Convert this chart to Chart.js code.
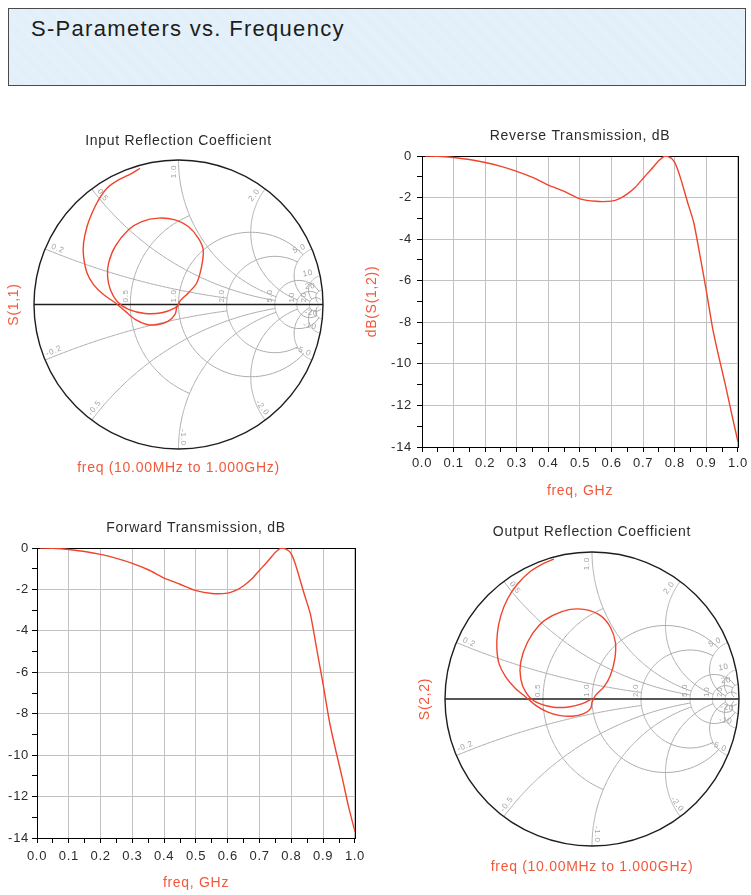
<!DOCTYPE html>
<html>
<head>
<meta charset="utf-8">
<title>S-Parameters vs. Frequency</title>
<script src="https://cdn.jsdelivr.net/npm/chart.js@4.4.1/dist/chart.umd.min.js"></script>
<style>
	body { margin: 0; width: 751px; height: 895px; position: relative; overflow: hidden; background: #fff;
		font-family: "Liberation Sans", Arial, sans-serif; }
	#header { position: absolute; left: 8px; top: 8px; width: 736px; height: 76px; border: 1px solid #4a4a4a;
		background-color: #dfeef8;
		background-image: repeating-linear-gradient(45deg, rgba(255,255,255,0.22) 0 1px, transparent 1px 2px); }
	#header span { position: absolute; left: 22px; top: 8px; font-size: 22px; line-height: 24px;
		letter-spacing: 1.3px; color: #1c1c1c; }
	canvas { position: absolute; }
</style>
</head>
<body>
<div id="header"><span>S-Parameters vs. Frequency</span></div>
<canvas id="chartS11" width="340" height="360" style="left:0px;top:120px"></canvas>
<canvas id="chartS12" width="391" height="380" style="left:360px;top:120px"></canvas>
<canvas id="chartS21" width="370" height="385" style="left:0px;top:510px"></canvas>
<canvas id="chartS22" width="351" height="385" style="left:400px;top:510px"></canvas>
<script>
/* frequency points (GHz) */
var freqGHz = [0.01, 0.05, 0.10, 0.15, 0.20, 0.25, 0.30, 0.35, 0.40, 0.45, 0.50,
	0.55, 0.60, 0.625, 0.65, 0.675, 0.70, 0.725, 0.75, 0.77, 0.79, 0.80, 0.81, 0.82,
	0.84, 0.86, 0.88, 0.90, 0.92, 0.94, 0.96, 0.98, 1.00];
/* dB(S(1,2)) */
var s12Db = [0, -0.01, -0.07, -0.17, -0.31, -0.50, -0.74, -1.03, -1.40, -1.70, -2.06,
	-2.18, -2.17, -2.05, -1.82, -1.50, -1.07, -0.65, -0.22, 0.0, -0.12, -0.32, -0.68, -1.15,
	-2.2, -3.2, -4.8, -6.5, -8.3, -9.7, -11.0, -12.4, -13.75];
/* dB(S(2,1)) */
var s21Db = [0, -0.01, -0.07, -0.17, -0.31, -0.50, -0.74, -1.05, -1.45, -1.75, -2.06,
	-2.20, -2.18, -2.05, -1.82, -1.50, -1.07, -0.65, -0.20, 0.0, -0.12, -0.30, -0.66, -1.15,
	-2.2, -3.2, -4.9, -6.6, -8.4, -9.8, -11.1, -12.5, -13.7];
/* S(1,1) real / imaginary, 10 MHz .. 1 GHz */
var s11Re = [-0.266, -0.323, -0.415, -0.495, -0.553, -0.599, -0.633, -0.657, -0.657, -0.633, -0.588,
	-0.519, -0.438, -0.369, -0.300, -0.219, -0.139, -0.070, -0.024, -0.012, 0.010, 0.068, 0.126,
	0.160, 0.171, 0.137, 0.068, -0.024, -0.139, -0.254, -0.346, -0.438, -0.484, -0.491, -0.472,
	-0.426, -0.346, -0.231, -0.116, -0.024, 0.010];
var s11Im = [0.943, 0.908, 0.862, 0.805, 0.724, 0.632, 0.540, 0.426, 0.333, 0.218, 0.138,
	0.069, 0.012, -0.046, -0.103, -0.138, -0.138, -0.115, -0.069, -0.023, 0.023, 0.080, 0.149,
	0.264, 0.379, 0.460, 0.540, 0.586, 0.598, 0.574, 0.517, 0.402, 0.286, 0.195, 0.103,
	0.023, -0.034, -0.062, -0.057, -0.023, 0.012];
/* S(2,2) real / imaginary */
var s22Re = [-0.259, -0.338, -0.428, -0.507, -0.575, -0.620, -0.643, -0.647, -0.632, -0.586,
	-0.519, -0.451, -0.383, -0.304, -0.225, -0.134, -0.056, -0.010, 0.001, 0.024, 0.080, 0.125,
	0.155, 0.159, 0.125, 0.058, -0.044, -0.157, -0.270, -0.361, -0.439, -0.485, -0.485, -0.451,
	-0.383, -0.270, -0.157, -0.066, 0.001];
var s22Im = [0.951, 0.917, 0.861, 0.782, 0.680, 0.567, 0.454, 0.341, 0.239, 0.149,
	0.070, 0.014, -0.043, -0.088, -0.111, -0.117, -0.100, -0.066, -0.020, 0.025, 0.081, 0.160,
	0.273, 0.386, 0.488, 0.567, 0.608, 0.608, 0.567, 0.500, 0.386, 0.251, 0.138, 0.047,
	-0.020, -0.054, -0.054, -0.032, 0.002];
/* tick labels */
var freqTickLabels = ['0.0', '0.1', '0.2', '0.3', '0.4', '0.5', '0.6', '0.7', '0.8', '0.9', '1.0'];
var dbTickLabels = ['-14', '-12', '-10', '-8', '-6', '-4', '-2', '0'];
/* smith grid: [value, limit] and labels */
var smithRCircles = [[0.5, 1], [1, 5], [2, 5], [5, 20], [10, 20], [20, 50]];
var smithXArcs = [[0.2, 2], [0.5, 5], [1, 5], [2, 10], [5, 20], [10, 20], [20, 50]];
var smithRLabels = ['0.5', '1.0', '2.0', '5.0', '10', '20'];
var smithXLabels = ['0.2', '0.5', '1.0', '2.0', '5.0', '10', '20'];

var curveColor = '#f0442c';
var labelRed = '#f05a3c';
var gridColor = '#c2c2c2';
var smithGridColor = '#ababab';

Chart.defaults.font.family = '"Liberation Sans", Arial, sans-serif';
Chart.defaults.font.size = 13;
Chart.defaults.color = '#2b2b2b';

/* ADS text is drawn a little spaced out */
var spacingPlugin = {
	id: 'letterSpacing',
	beforeDraw: function(chart) { chart.ctx.letterSpacing = '0.7px'; }
};
Chart.register(spacingPlugin);

/* black box round the plot area */
var framePlugin = {
	id: 'plotFrame',
	beforeDatasetsDraw: function(chart) {
		var a = chart.chartArea, ctx = chart.ctx;
		var l = Math.round(a.left), t = Math.round(a.top);
		ctx.save();
		ctx.strokeStyle = '#000';
		ctx.lineWidth = 1;
		ctx.strokeRect(l + 0.5, t + 0.5, Math.round(a.right) - l, Math.round(a.bottom) - t);
		ctx.restore();
	}
};

/* smith chart grid, drawn through the chart's own x / y scales */
var smithGridPlugin = {
	id: 'smithGrid',
	beforeDatasetsDraw: function(chart) {
		var ctx = chart.ctx, xs = chart.scales.x, ys = chart.scales.y;
		var cx = xs.getPixelForValue(0), cy = ys.getPixelForValue(0);
		var rad = xs.getPixelForValue(1) - cx;
		function toPx(g) { return [xs.getPixelForValue(g[0]), ys.getPixelForValue(g[1])]; }
		function gamma(r, x) {
			var den = (r + 1) * (r + 1) + x * x;
			return [(r * r - 1 + x * x) / den, (2 * x) / den];
		}
		function path(pts) {
			ctx.beginPath();
			pts.forEach(function(g, i) {
				var p = toPx(g);
				if (i === 0) ctx.moveTo(p[0], p[1]); else ctx.lineTo(p[0], p[1]);
			});
			ctx.stroke();
		}
		ctx.save();
		ctx.strokeStyle = smithGridColor;
		ctx.lineWidth = 1;
		/* constant resistance circles */
		smithRCircles.forEach(function(c) {
			var phiMax = Math.atan(c[1]), pts = [];
			for (var k = 0; k <= 160; k++) {
				var phi = -phiMax + 2 * phiMax * k / 160;
				pts.push(gamma(c[0], Math.tan(phi)));
			}
			path(pts);
		});
		/* constant reactance arcs */
		smithXArcs.forEach(function(a) {
			var tMax = a[1] / (1 + a[1]);
			[1, -1].forEach(function(sgn) {
				var pts = [];
				for (var k = 0; k <= 140; k++) {
					var t = tMax * k / 140;
					pts.push(gamma(t / (1 - t), sgn * a[0]));
				}
				path(pts);
			});
		});
		/* labels */
		ctx.fillStyle = '#a2a2a2';
		ctx.font = '8px "Liberation Sans", Arial, sans-serif';
		ctx.textAlign = 'center';
		ctx.textBaseline = 'bottom';
		smithXLabels.forEach(function(lab, i) {
			[1, -1].forEach(function(sgn) {
				var g = gamma(0, sgn * smithXArcs[i][0]);
				var th = Math.atan2(g[1], g[0]);
				var p = toPx([g[0] * 0.92, g[1] * 0.92]);
				var rot = -th;
				if (Math.cos(th) < -0.01) rot += Math.PI;
				ctx.save();
				ctx.translate(p[0], p[1]);
				ctx.rotate(rot);
				ctx.fillText((sgn < 0 ? '-' : '') + lab, 0, -1);
				ctx.restore();
			});
		});
		ctx.textAlign = 'left';
		smithRLabels.forEach(function(lab, i) {
			var p = toPx(gamma(smithRCircles[i][0], 0));
			ctx.save();
			ctx.translate(p[0] - 1, p[1] - 2);
			ctx.rotate(-Math.PI / 2);
			ctx.fillText(lab, 0, 0);
			ctx.restore();
		});
		/* outer circle and real axis */
		ctx.strokeStyle = '#1e1e1e';
		ctx.lineWidth = 1.4;
		ctx.beginPath();
		ctx.arc(cx, cy, rad, 0, Math.PI * 2);
		ctx.stroke();
		ctx.beginPath();
		ctx.moveTo(cx - rad, cy);
		ctx.lineTo(cx + rad, cy);
		ctx.stroke();
		ctx.restore();
	}
};

/* dB vs frequency panel */
function createDbChart(canvasId, values, titleText, yTitle, box) {
	var points = freqGHz.map(function(f, i) { return {x: f, y: values[i]}; });
	return new Chart(document.getElementById(canvasId), {
		type: 'line',
		data: {
			datasets: [{
				data: points,
				borderColor: curveColor,
				borderWidth: 1.4,
				pointRadius: 0,
				tension: 0.2,
				fill: false
			}]
		},
		options: {
			responsive: false,
			animation: false,
			layout: { padding: { left: 0, right: box.right, top: 0, bottom: 0 } },
			plugins: {
				legend: { display: false },
				tooltip: { enabled: false },
				title: {
					display: true, text: titleText, fullSize: false, color: '#2b2b2b',
					font: { size: 14, weight: 'normal' },
					padding: { top: box.titleTop, bottom: box.titleBottom }
				}
			},
			scales: {
				x: {
					type: 'linear', min: 0, max: 1,
					afterFit: function(s) { s.height = box.xHeight; },
					ticks: {
						stepSize: 0.05, maxTicksLimit: 30, autoSkip: false, maxRotation: 0,
						padding: box.xTickPad, color: '#2b2b2b',
						callback: function(v, i) { return i % 2 === 0 ? freqTickLabels[i / 2] : ''; }
					},
					grid: {
						color: function(c) { return c.index % 2 === 0 ? gridColor : 'rgba(0,0,0,0)'; },
						tickColor: '#000', tickLength: 5, lineWidth: 1
					},
					border: { color: '#000' },
					title: {
						display: true, text: 'freq, GHz', color: labelRed, font: { size: 14 },
						padding: { top: 0, bottom: box.xTitlePad }
					}
				},
				y: {
					type: 'linear', min: -14, max: 0,
					afterFit: function(s) { s.width = box.yWidth; },
					ticks: {
						stepSize: 1, maxTicksLimit: 30, autoSkip: false, padding: box.yTickPad, color: '#2b2b2b',
						callback: function(v, i) { return i % 2 === 0 ? dbTickLabels[i / 2] : ''; }
					},
					grid: {
						color: function(c) { return c.index % 2 === 0 ? gridColor : 'rgba(0,0,0,0)'; },
						tickColor: '#000', tickLength: 5, lineWidth: 1
					},
					border: { color: '#000' },
					title: {
						display: !!yTitle, text: yTitle || '', color: labelRed, font: { size: 14 },
						padding: { top: box.yTitlePad, bottom: 0 }
					}
				}
			}
		},
		plugins: [framePlugin]
	});
}

/* smith chart panel */
function createSmithChart(canvasId, re, im, titleText, yTitle, box) {
	var points = re.map(function(r, i) { return {x: r, y: im[i]}; });
	return new Chart(document.getElementById(canvasId), {
		type: 'scatter',
		data: {
			datasets: [{
				data: points,
				showLine: true,
				borderColor: curveColor,
				borderWidth: 1.4,
				pointRadius: 0,
				tension: 0.3,
				fill: false
			}]
		},
		options: {
			responsive: false,
			animation: false,
			layout: { padding: { left: 0, right: box.right, top: 0, bottom: 0 } },
			plugins: {
				legend: { display: false },
				tooltip: { enabled: false },
				title: {
					display: true, text: titleText, fullSize: false, color: '#2b2b2b',
					font: { size: 14, weight: 'normal' },
					padding: { top: box.titleTop, bottom: box.titleBottom }
				},
				subtitle: {
					display: true, position: 'bottom', fullSize: false,
					text: 'freq (10.00MHz to 1.000GHz)', color: labelRed,
					font: { size: 14, weight: 'normal' },
					padding: { top: box.subTop, bottom: box.subBottom }
				}
			},
			scales: {
				x: { type: 'linear', min: -1, max: 1, display: false },
				y: {
					type: 'linear', min: -1, max: 1,
					afterFit: function(s) { s.width = box.yWidth; },
					ticks: { display: false },
					grid: { display: false },
					border: { display: false },
					title: {
						display: true, text: yTitle, color: labelRed, font: { size: 14 },
						padding: { top: box.yTitlePad, bottom: 0 }
					}
				}
			}
		},
		plugins: [smithGridPlugin]
	});
}

createSmithChart('chartS11', s11Re, s11Im, 'Input Reflection Coefficient', 'S(1,1)',
	{ right: 17, yWidth: 34, yTitlePad: 5.6, titleTop: 12.3, titleBottom: 10.9, subTop: 10.9, subBottom: 3.3 });
createDbChart('chartS12', s12Db, 'Reverse Transmission, dB', 'dB(S(1,2))',
	{ right: 9, yWidth: 62, yTitlePad: 3.6, yTickPad: 5, xHeight: 53, xTickPad: 4, xTitlePad: 0, titleTop: 7.6, titleBottom: 11.6 });
createDbChart('chartS21', s21Db, 'Forward Transmission, dB', null,
	{ right: 12, yWidth: 37, yTitlePad: 0, yTickPad: 3, xHeight: 57, xTickPad: 6, xTitlePad: 3.3, titleTop: 9.9, titleBottom: 11.3 });
createSmithChart('chartS22', s22Re, s22Im, 'Output Reflection Coefficient', 'S(2,2)',
	{ right: 12, yWidth: 45, yTitlePad: 16.6, titleTop: 13.3, titleBottom: 11.9, subTop: 12.3, subBottom: 19.9 });
</script>
</body>
</html>
